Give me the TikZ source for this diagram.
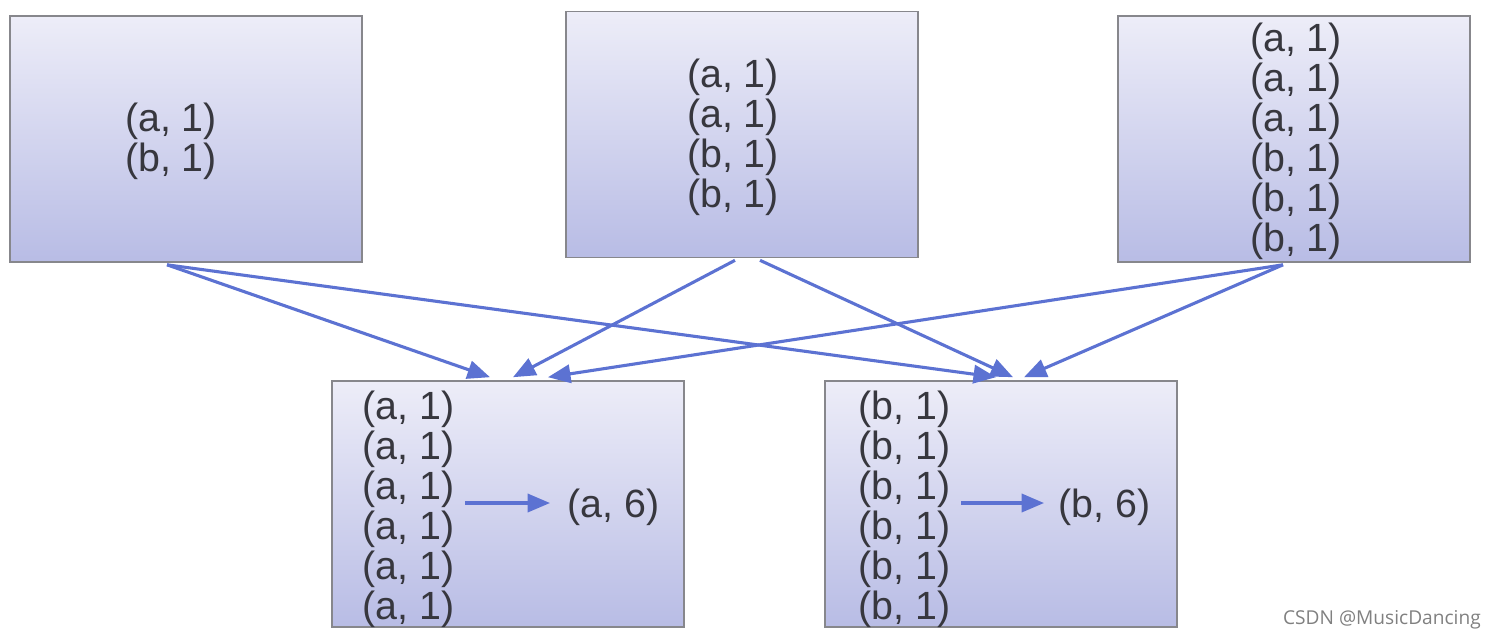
\documentclass[tikz,border=0pt]{standalone}
\usepackage{fontspec}
\setmainfont{Liberation Sans}
\newfontfamily\wmfont{Open Sans}
\usetikzlibrary{arrows.meta,calc}

\definecolor{boxtop}{RGB}{237,237,248}
\definecolor{boxbot}{RGB}{184,188,229}
\definecolor{boxline}{RGB}{135,135,140}
\definecolor{flowblue}{RGB}{92,114,210}
\definecolor{pairtext}{RGB}{55,55,62}

\tikzset{
  kvbox/.style={draw=boxline, line width=1.1pt, top color=boxtop, bottom color=boxbot,
    minimum width=8.8cm, minimum height=6.15cm, inner sep=0pt},
  kvtext/.style={text=pairtext, font=\fontsize{28}{28.45}\selectfont, align=left, inner sep=0pt},
  flow/.style={draw=flowblue, line width=2.2pt, -{Triangle[length=16pt,width=13pt]}}
}

\begin{document}
\begin{tikzpicture}[x=0.025cm, y=-0.025cm]
\useasboundingbox (0,0) rectangle (1496,640);

% map side
\node[kvbox] (m1) at (186,139) {};
\node[kvbox] (m2) at (742,134.5) {};
\node[kvbox] (m3) at (1294,139) {};
\node[kvtext] (p1) at (171,141) {(a, 1)\\(b, 1)};
\node[kvtext] (p2) at (733,137) {(a, 1)\\(a, 1)\\(b, 1)\\(b, 1)};
\node[kvtext] (p3) at (1296,141) {(a, 1)\\(a, 1)\\(a, 1)\\(b, 1)\\(b, 1)\\(b, 1)};

% reduce side
\node[kvbox] (r1) at (508,504) {};
\node[kvbox] (r2) at (1001,504) {};
\node[kvtext, anchor=west] (g1) at (362,509) {(a, 1)\\(a, 1)\\(a, 1)\\(a, 1)\\(a, 1)\\(a, 1)};
\node[kvtext, anchor=west] (g2) at (858,509) {(b, 1)\\(b, 1)\\(b, 1)\\(b, 1)\\(b, 1)\\(b, 1)};
\node[kvtext, anchor=west] (s1) at (567,507) {(a, 6)};
\node[kvtext, anchor=west] (s2) at (1058,507) {(b, 6)};
\draw[flow] ($(g1.east)+(11,-6)$) -- ($(s1.west)+(-17,-4)$);
\draw[flow] ($(g2.east)+(11,-6)$) -- ($(s2.west)+(-14,-4)$);

% shuffle
\draw[flow] ($(m1.south)+(-19,2)$) -- ($(r1.north)+(-18,-3)$);
\draw[flow] ($(m1.south)+(-19,2)$) -- ($(r2.north)+(-5,-3)$);
\draw[flow] ($(m2.south)+(-7,2)$) -- ($(r1.north)+(5,-3)$);
\draw[flow] ($(m2.south)+(18,2)$) -- ($(r2.north)+(12,-3)$);
\draw[flow] ($(m3.south)+(-11,2)$) -- ($(r1.north)+(40,-3)$);
\draw[flow] ($(m3.south)+(-11,2)$) -- ($(r2.north)+(23,-3)$);

\node[font=\wmfont\fontsize{13.6}{15}\selectfont, text=black!50, anchor=base east, inner sep=0pt] (wm) at (1481,624) {CSDN @MusicDancing};
\end{tikzpicture}
\end{document}
